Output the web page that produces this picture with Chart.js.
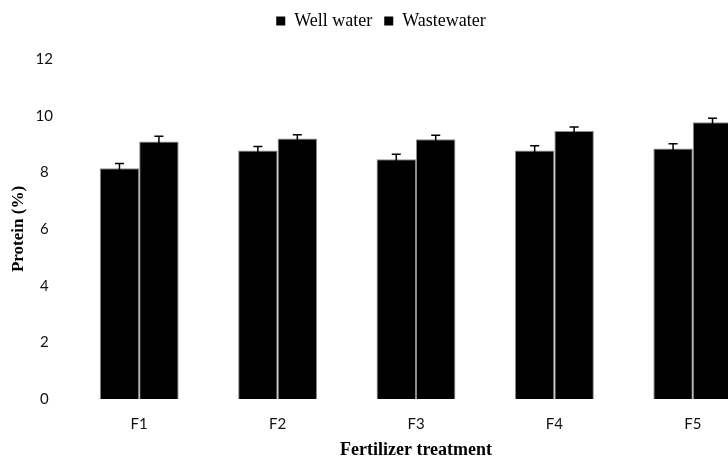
<!DOCTYPE html>
<html>
<head>
<meta charset="utf-8">
<script src="https://cdn.jsdelivr.net/npm/chart.js@4/dist/chart.umd.min.js"></script>
<style>
  html, body { margin: 0; padding: 0; background: #fff; overflow: hidden; }
  #wrap { position: relative; width: 790px; height: 459px; }
</style>
</head>
<body>
<div id="wrap"><canvas id="protein-chart"></canvas></div>
<script>
var categories = ["F1", "F2", "F3", "F4", "F5"];
var wellWater = [8.14, 8.77, 8.46, 8.77, 8.84];
var wasteWater = [9.09, 9.19, 9.17, 9.46, 9.77];
var wellErr = [0.17, 0.14, 0.18, 0.17, 0.17];
var wasteErr = [0.18, 0.14, 0.14, 0.14, 0.14];
var yTicks = [0, 2, 4, 6, 8, 10, 12];

// error bars drawn from the value + error arrays through the y scale
var errorBars = {
  id: 'errorBars',
  afterDatasetsDraw: function(chart) {
    var ctx = chart.ctx, y = chart.scales.y;
    var errs = [wellErr, wasteErr];
    ctx.save();
    ctx.strokeStyle = '#000';
    ctx.lineWidth = 1.5;
    chart.data.datasets.forEach(function(ds, i) {
      chart.getDatasetMeta(i).data.forEach(function(bar, j) {
        var top = y.getPixelForValue(ds.data[j] + errs[i][j]);
        var bot = y.getPixelForValue(ds.data[j] - errs[i][j]);
        ctx.beginPath();
        ctx.moveTo(bar.x, bot); ctx.lineTo(bar.x, top);
        ctx.moveTo(bar.x - 4.5, top); ctx.lineTo(bar.x + 4.5, top);
        ctx.moveTo(bar.x - 4.5, bot); ctx.lineTo(bar.x + 4.5, bot);
        ctx.stroke();
      });
    });
    ctx.restore();
  }
};

var legendHeight = {
  id: 'legendHeight',
  beforeInit: function(chart) {
    var fit = chart.legend.fit;
    chart.legend.fit = function() {
      fit.bind(chart.legend)();
      this.height = 59;
    };
  }
};

var proteinChart = new Chart(document.getElementById('protein-chart'), {
  type: 'bar',
  data: {
    labels: categories,
    datasets: [
      { label: "Well water", data: wellWater, backgroundColor: "#000", borderColor: "#8c8c8c", borderWidth: 1 },
      { label: "Wastewater", data: wasteWater, backgroundColor: "#000", borderColor: "#8c8c8c", borderWidth: 1 }
    ]
  },
  options: {
    responsive: true, maintainAspectRatio: false, animation: false,
    layout: { padding: { left: 0, right: 28, top: 0, bottom: 0 } },
    datasets: { bar: { barPercentage: 1, categoryPercentage: 0.57 } },
    plugins: {
      legend: {
        display: true, position: 'top',
        labels: {
          font: { family: "'Liberation Serif', 'Times New Roman', serif", size: 18 },
          color: '#000', boxWidth: 9, boxHeight: 9, padding: 12,
          generateLabels: function(chart) {
            return chart.data.datasets.map(function(ds, i) {
              return { text: ds.label, fillStyle: '#000', strokeStyle: '#000', lineWidth: 0, datasetIndex: i, fontColor: '#000' };
            });
          }
        }
      },
      title: { display: false },
      tooltip: { enabled: false }
    },
    scales: {
      x: {
        grid: { display: false, drawTicks: false },
        border: { display: false },
        ticks: { color: '#111', padding: 16, font: { family: 'Lato', size: 15 } },
        title: {
          display: true, text: 'Fertilizer treatment', color: '#000',
          font: { family: "'Liberation Serif', 'Times New Roman', serif", size: 18, weight: 'bold', lineHeight: 1 },
          padding: { top: 0, bottom: 0 }
        },
        afterFit: function(s) { s.height = 60; }
      },
      y: {
        min: 0, max: 12,
        grid: { display: false, drawTicks: false },
        border: { display: false },
        afterBuildTicks: function(s) { s.ticks = yTicks.map(function(v) { return { value: v }; }); },
        ticks: { color: '#111', padding: 17, crossAlign: 'center', font: { family: 'Lato', size: 15 } },
        title: {
          display: true, text: 'Protein (%)', color: '#000',
          font: { family: "'Liberation Serif', 'Times New Roman', serif", size: 17, weight: 'bold', lineHeight: 1.2 },
          padding: { top: 8, bottom: 0 }
        },
        afterFit: function(s) { s.width = 70; }
      }
    }
  },
  plugins: [errorBars, legendHeight]
});
</script>
</body>
</html>
